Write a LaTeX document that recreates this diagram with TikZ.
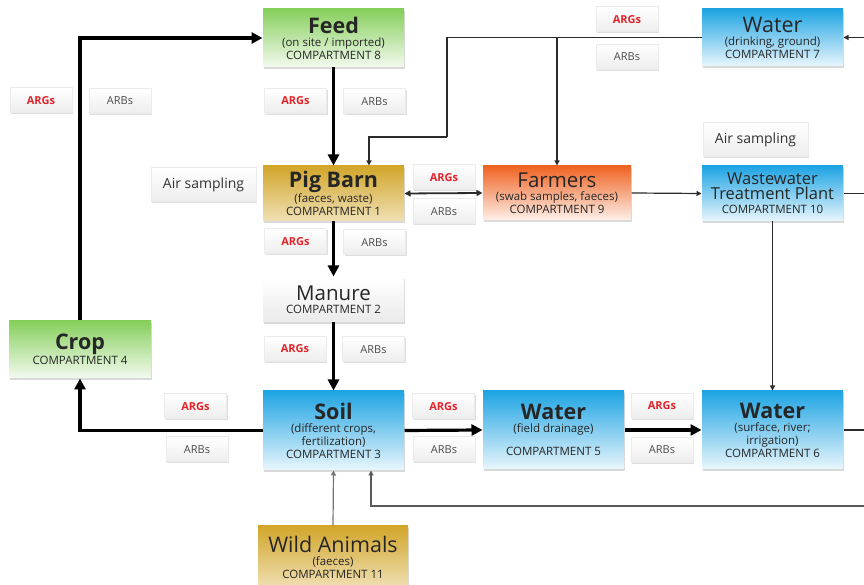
\documentclass[tikz,border=0pt]{standalone}
\usepackage{fontspec}
\setmainfont{Open Sans}
\usetikzlibrary{arrows.meta, positioning, shadows}
\definecolor{cgreen}{HTML}{86CF5C}
\definecolor{cblue}{HTML}{1EA4E3}
\definecolor{cgold}{HTML}{D2A62A}
\definecolor{corange}{HTML}{EF6322}
\definecolor{cred}{HTML}{E3242B}
\definecolor{cline}{HTML}{2B2B2B}
\tikzset{
  every picture/.style={line width=1pt},
  box/.style={top color=#1, bottom color=#1!10, draw=none, align=center, inner sep=1pt,
    minimum width=141pt, drop shadow={shadow xshift=1pt, shadow yshift=-2pt, opacity=.3},
    font=\fontsize{11.5}{13}\selectfont, text=black!85},
  box/.default=cblue,
  chip/.style={top color=white, bottom color=black!7, draw=black!8, minimum width=62pt,
    minimum height=25pt, inner sep=0pt, drop shadow={shadow xshift=1pt, shadow yshift=-1.5pt, opacity=.25}},
  args/.style={chip, text=cred, font=\fontsize{11}{12}\selectfont\bfseries},
  arbs/.style={chip, text=black!70, font=\fontsize{11}{12}\selectfont},
  air/.style={chip, minimum width=105pt, minimum height=34pt, font=\fontsize{14}{16}\selectfont, text=black!80},
  flow/.style={-{Triangle[length=11pt, width=11pt]}, line width=3.2pt, draw=black},
  link/.style={-{Triangle[length=5pt, width=5pt]}, line width=1.2pt, draw=cline},
}
\newcommand{\ttlb}[1]{{\fontsize{21.5}{22}\selectfont\bfseries #1}}
\newcommand{\ttlr}[2]{{\fontsize{#1}{#1}\selectfont #2}}

\begin{document}
\begin{tikzpicture}[x=1pt, y=1pt]
  \useasboundingbox (0,0) rectangle (864,585);
  \clip (0,0) rectangle (864,585);
  % compartments
  \node[box=cgreen, minimum height=58pt] (feed) at (333.5,547) {\ttlb{Feed}\\(on site / imported)\\COMPARTMENT 8};
  \node[box, minimum height=57pt] (water7) at (772.5,547.5) {\ttlr{21.5}{Water}\\(drinking, ground)\\COMPARTMENT 7};
  \node[box=cgold, bottom color=cgold!35, minimum height=55pt] (pigbarn) at (333.5,391.5) {\ttlb{Pig Barn}\\(faeces, waste)\\COMPARTMENT 1};
  \node[box=corange, minimum width=148pt, minimum height=54pt] (farmers) at (557,392) {\ttlr{20.5}{Farmers}\\(swab samples, faeces)\\COMPARTMENT 9};
  \node[box, minimum height=55pt] (wwtp) at (772.5,391.5) {\ttlr{16.5}{Wastewater}\\[2pt]\ttlr{16.5}{Treatment Plant}\\[1pt]COMPARTMENT 10};
  \node[box, top color=white, bottom color=black!8, minimum height=45pt] (manure) at (333.5,285.5) {\ttlr{20.5}{Manure}\\COMPARTMENT 2};
  \node[box=cgreen, minimum width=142pt, minimum height=57pt] (crop) at (80,235.5) {\ttlb{Crop}\\COMPARTMENT 4};
  \node[box, minimum height=79pt] (soil) at (333.5,154.5) {\ttlb{Soil}\\(different crops,\\fertilization)\\COMPARTMENT 3};
  \node[box, minimum height=78pt] (water5) at (553.5,155) {\ttlb{Water}\\(field drainage)\\[10pt]COMPARTMENT 5};
  \node[box, minimum height=78pt] (water6) at (772.5,155) {\ttlb{Water}\\(surface, river;\\irrigation)\\COMPARTMENT 6};
  \node[box=cgold, bottom color=cgold!35, minimum width=150pt, minimum height=62pt] (wild) at (333,28) {\ttlr{21.5}{Wild Animals}\\(faeces)\\COMPARTMENT 11};
  % sampling labels
  \foreach \n/\x/\y in {top/627/565.5, left/41/484.5, feed/295.5/484, pb/444/407.5,
                        barn/295.5/343.5, man/295/236, soil/195.5/178.5, mid/443.5/178.5, right/662/179}
    \node[args] (g\n) at (\x,\y) {ARGs};
  \foreach \n/\x/\y in {top/627/528, left/120/484, feed/374.5/483.5, pb/444/373.5,
                        barn/374.5/342.5, man/373.5/235.5, soil/197/135.5, mid/444/135.5, right/662/135}
    \node[arbs] (b\n) at (\x,\y) {ARBs};
  \node[air] (airl) at (203.5,400.5) {Air sampling};
  \node[air] (airr) at (755.5,445) {Air sampling};
  % helper points
  \coordinate (redge) at (864,0);
  \coordinate (w7bend) at (447,448);
  \coordinate (pbin) at ([xshift=35.5pt]pigbarn.north);
  \coordinate (sret) at ([xshift=37.5pt]soil.south);
  \coordinate (loop) at (864,79);
  % main flows
  \draw[flow] (crop.north) |- (feed.west);
  \draw[flow] (soil.west) -| (crop.south);
  \draw[flow] (feed.south) -- (pigbarn.north);
  \draw[flow] (pigbarn.south) -- (manure.north);
  \draw[flow] (manure.south) -- (soil.north);
  \draw[flow] (soil.east) -- (water5.west);
  \draw[flow] (water5.east) -- (water6.west);
  % other links
  \draw[link, -] (water7.west) -| (w7bend);
  \draw[link] (w7bend) -| (pbin);
  \draw[link] (water7.west -| farmers.north) -- (farmers.north);
  \draw[link, {Triangle[length=6pt, width=6pt]}-{Triangle[length=6pt, width=6pt]}, line width=1.8pt] (pigbarn.east) -- (farmers.west);
  \draw[link] (farmers.east) -- (wwtp.west);
  \draw[link, -] (wwtp.east) -- (wwtp.east -| redge);
  \draw[link] (wwtp.south) -- (water6.north);
  \draw[link, -] (water6.east) -- (water6.east -| redge);
  \draw[link] (redge |- water7.east) -- (water7.east);
  \draw[link, draw=black!65] (loop) -| (sret);
  \draw[link, draw=black!55] (wild.north) -- (soil.south);
\end{tikzpicture}
\end{document}
